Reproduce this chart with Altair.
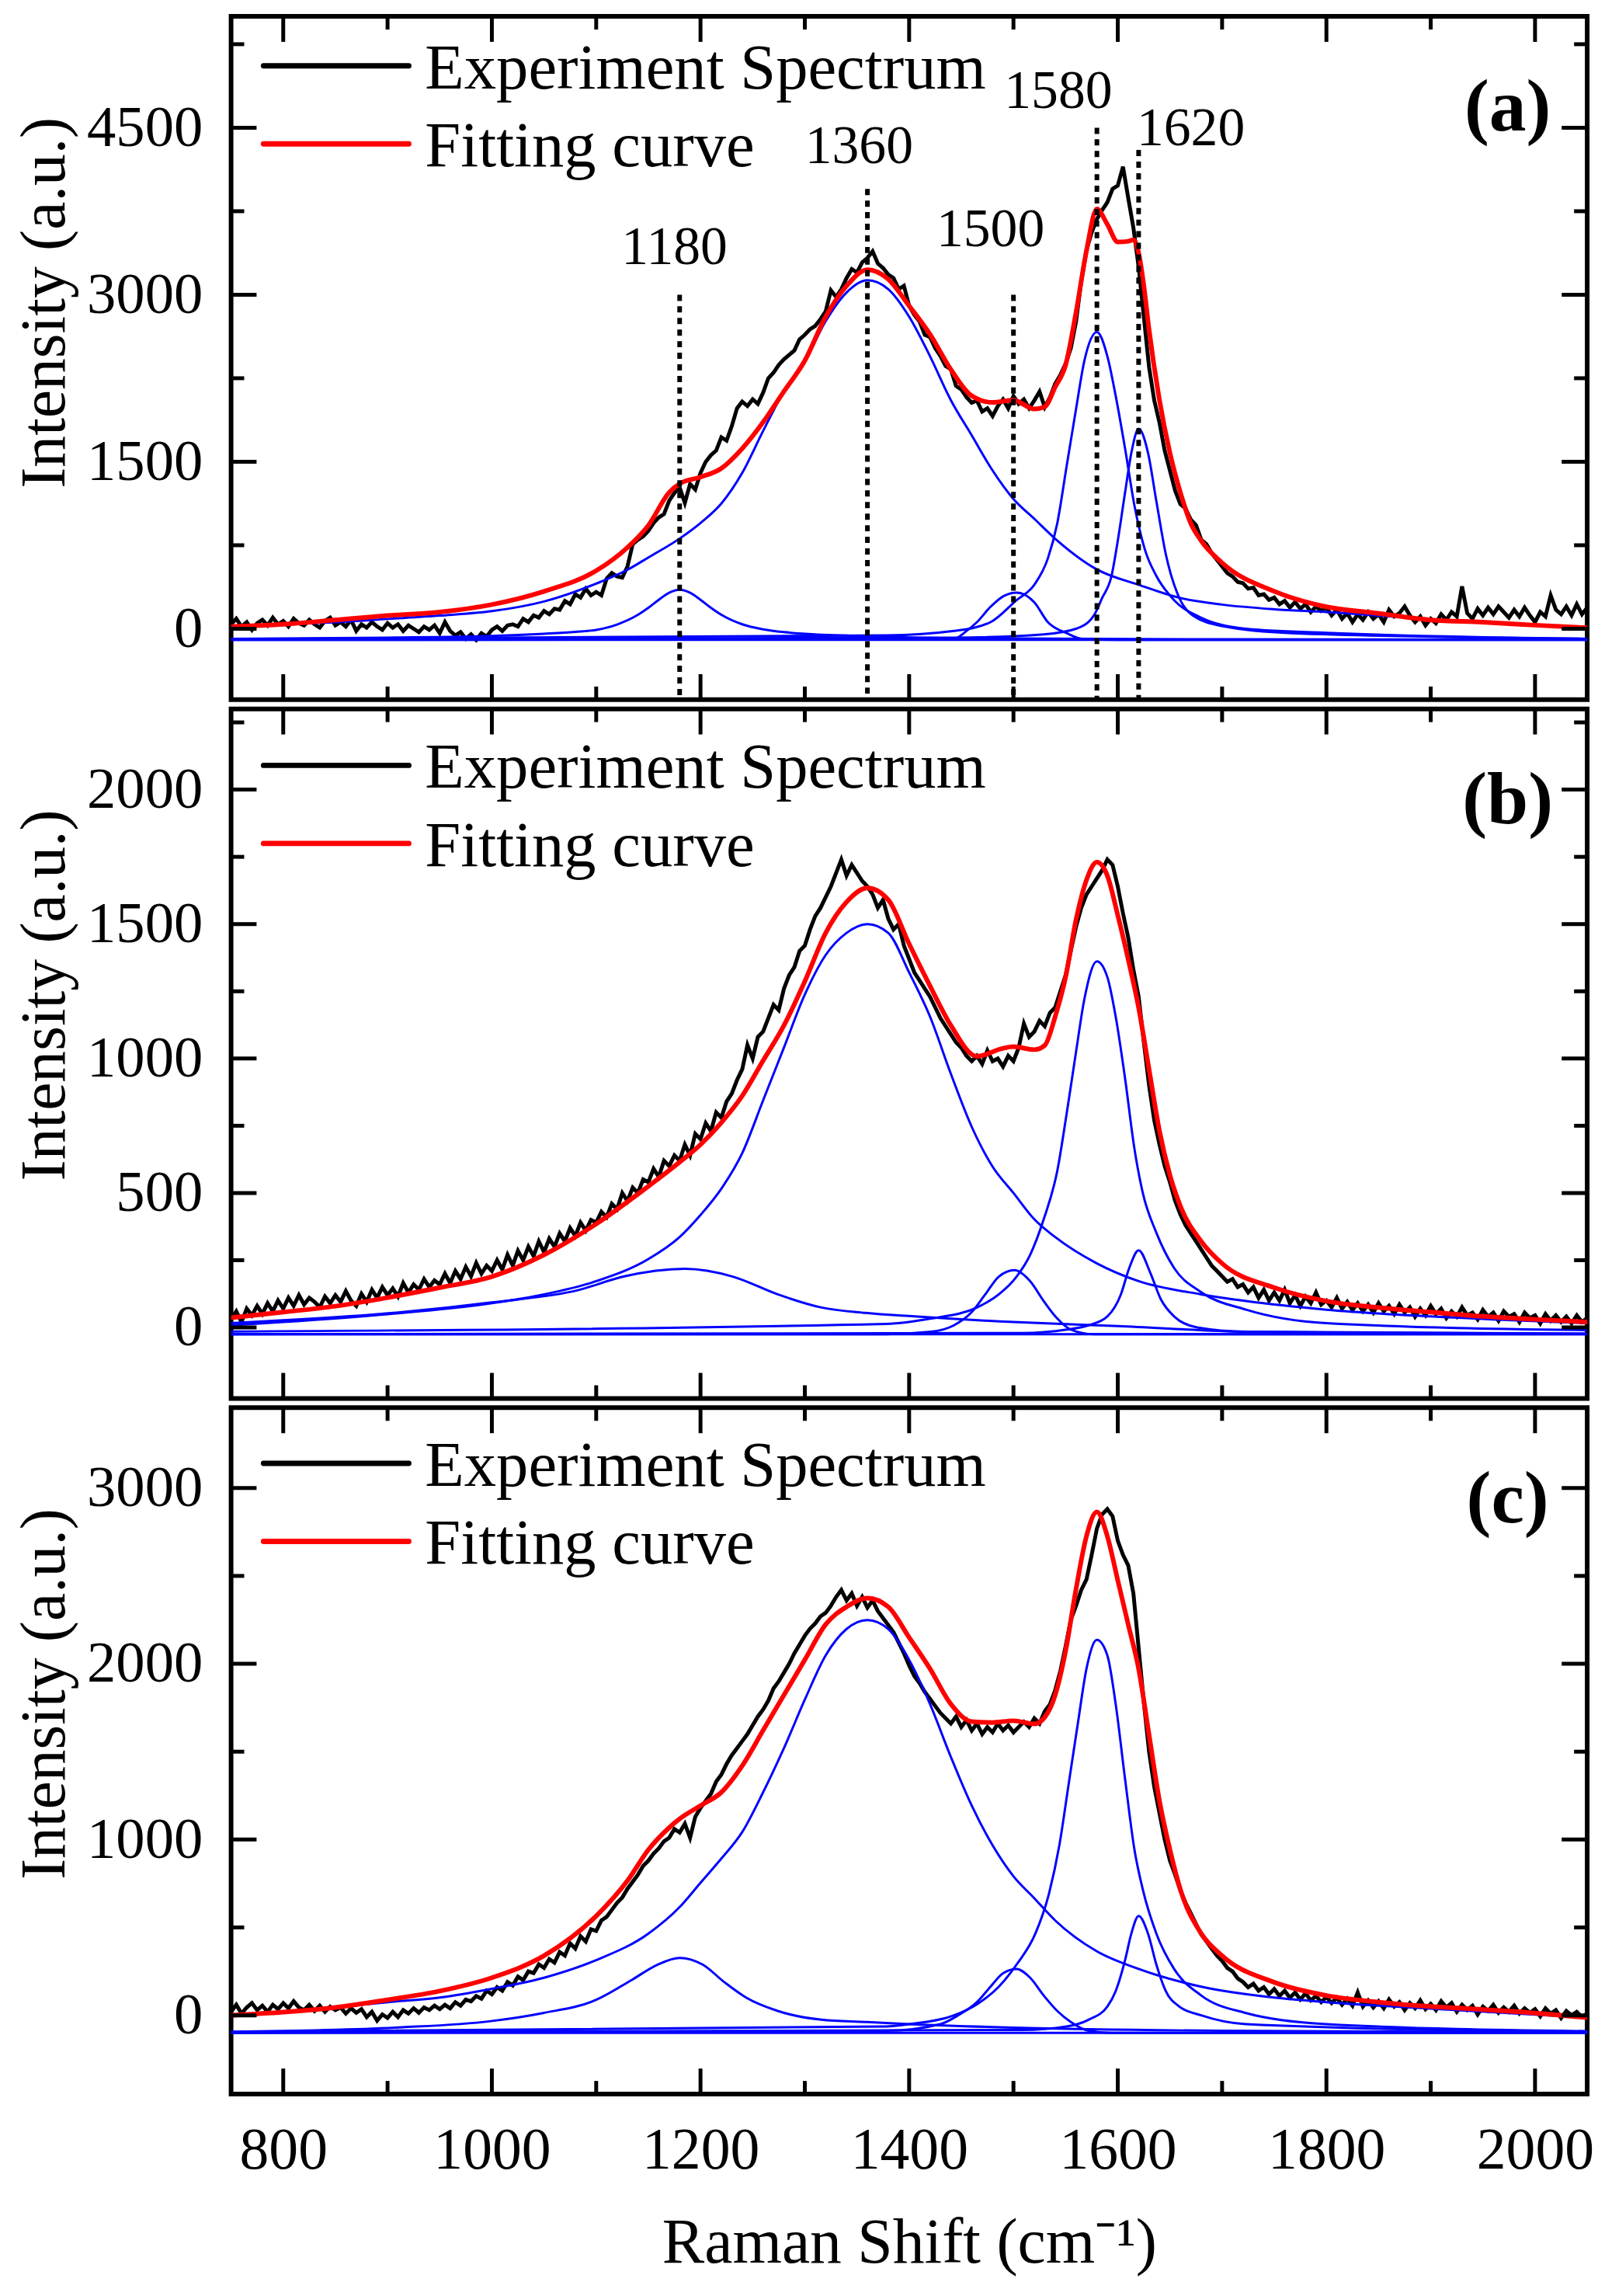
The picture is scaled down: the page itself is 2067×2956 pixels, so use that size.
import altair as alt
import pandas as pd

FONT = "Liberation Serif"
W = 1755
HEIGHTS = {"a": 884, "b": 892, "c": 888}
Y_DOMAINS = {"a": [-637, 5500], "b": [-264, 2300], "c": [-448, 3457]}

LEGEND_LABELS = ["Experiment Spectrum", "Fitting curve"]
PANEL_LABELS = {"a": "(a)", "b": "(b)", "c": "(c)"}
X_TITLE = "Raman Shift (cm\u207b\u00b9)"
Y_TITLE = "Intensity (a.u.)"

X_MAJOR = [800, 1000, 1200, 1400, 1600, 1800, 2000]
X_MINOR = [900, 1100, 1300, 1500, 1700, 1900]
Y_MAJOR = {"a": [0, 1500, 3000, 4500], "b": [0, 500, 1000, 1500, 2000], "c": [0, 1000, 2000, 3000]}
Y_MINOR = {"a": [750, 2250, 3750, 5250], "b": [250, 750, 1250, 1750, 2250], "c": [500, 1500, 2500]}

# experimental spectrum sample positions (cm-1)
EXP_X = list(range(750, 2051, 5))

# ---------------- panel (a) ----------------
exp_a = [
    40, 90, 20, 60, -10, 50, 80, 30, 100, 40, 70, 20, 90, 50, 30, 80, 40, 10, 70, 100,
    30, 60, 20, 80, -20, 40, 10, 60, 20, -10, 50, 10, 40, -20, 30, 0, -30, 20, -10, 30,
    -40, 60, -20, -60, -30, -90, -50, -100, -40, -70, -10, 20, -20, 30, 40, 20, 90, 60, 120, 100,
    160, 130, 180, 170, 250, 220, 310, 280, 360, 300, 330, 300, 450, 500, 470, 460, 560, 760, 800, 830,
    880, 950, 1000, 1030, 1150, 1220, 1270, 1130, 1300, 1250, 1400, 1500, 1560, 1600, 1720, 1690, 1820, 1980, 2040, 2000,
    2060, 2020, 2120, 2250, 2300, 2370, 2420, 2460, 2500, 2600, 2640, 2690, 2720, 2780, 2850, 3040, 2980, 3050, 3150, 3230,
    3200, 3290, 3330, 3390, 3280, 3240, 3180, 3150, 3050, 3080, 2900, 2820, 2760, 2640, 2620, 2520, 2450, 2360, 2330, 2180,
    2150, 2080, 2030, 2050, 1950, 1980, 1910, 2000, 2060, 1980, 2090, 2020, 2060, 1980, 2050, 2130, 1990, 2080, 2200, 2280,
    2380, 2520, 2760, 3120, 3400, 3560, 3680, 3760, 3830, 3950, 3980, 4150, 3870, 3600, 3250, 2800, 2350, 2050, 1850, 1600,
    1420, 1240, 1120, 1080, 980, 930, 800, 760, 680, 620, 560, 500, 470, 420, 410, 360, 370, 300, 310, 260,
    280, 220, 250, 190, 240, 180, 220, 150, 200, 160, 190, 120, 170, 90, 140, 60, 130, 80, 150, 90,
    130, 60, 170, 110, 140, 200, 120, 60, 110, 30, 90, 50, 130, 80, 150, 110, 380, 140, 90, 180,
    120, 190, 130, 200, 150, 100, 170, 110, 190, 120, 60, 150, 110, 300, 170, 130, 200, 120, 220, 130,
    190,
]
fit_a_x = [750, 800, 850, 900, 950, 1000, 1050, 1100, 1130, 1150, 1170, 1180, 1200, 1220, 1240,
           1260, 1280, 1300, 1320, 1340, 1360, 1380, 1400, 1420, 1440, 1460, 1480, 1500, 1520, 1530,
           1540, 1550, 1560, 1570, 1580, 1590, 1600, 1610, 1615, 1620, 1625, 1630, 1640, 1650, 1660,
           1670, 1680, 1700, 1750, 1800, 1850, 1900, 1950, 2000, 2050]
fit_a_y = [20, 40, 79, 118, 150, 217, 336, 521, 730, 928, 1224, 1303, 1362, 1441, 1619,
           1855, 2132, 2408, 2803, 3079, 3225, 3139, 2900, 2645, 2329, 2092, 2033, 2053, 1974, 1994,
           2171, 2369, 2842, 3395, 3770, 3632, 3474, 3480, 3494, 3375, 3079, 2684, 2053, 1579, 1224,
           947, 790, 592, 336, 197, 138, 79, 59, 32, 8]
a_c1_x = [750, 900, 1000, 1050, 1080, 1100, 1120, 1140, 1150, 1160, 1170, 1180, 1190, 1200, 1210,
          1220, 1240, 1260, 1280, 1300, 1350, 1400, 1500, 1700, 2050]
a_c1_y = [-90, -80, -65, -45, -28, -10, 38, 125, 188, 260, 323, 350, 323, 260, 188,
          125, 40, -5, -30, -45, -65, -78, -88, -95, -97]
a_c2_x = [750, 800, 850, 900, 950, 1000, 1050, 1100, 1130, 1150, 1180, 1200, 1220, 1240, 1260,
          1280, 1300, 1320, 1340, 1360, 1380, 1400, 1420, 1440, 1460, 1480, 1500, 1520, 1540, 1580,
          1620, 1660, 1700, 1750, 1800, 1900, 2000, 2050]
a_c2_y = [20, 40, 59, 88, 118, 158, 245, 405, 530, 640, 810, 950, 1125, 1400, 1776,
          2132, 2400, 2763, 3020, 3130, 3050, 2803, 2448, 2053, 1737, 1421, 1165, 987, 809, 533,
          395, 276, 217, 175, 150, 85, 30, 5]
a_c3_x = [750, 1400, 1443, 1455, 1465, 1478, 1491, 1503, 1520, 1533, 1551, 1568, 1600, 2050]
a_c3_y = [-100, -97, -90, -20, 59, 197, 296, 324, 237, 59, -40, -95, -100, -100]
a_c4_x = [750, 1378, 1443, 1478, 1503, 1520, 1533, 1542, 1551, 1560, 1568, 1580, 1590, 1598, 1607,
          1616, 1626, 1637, 1654, 1680, 1723, 1810, 2050]
a_c4_y = [-95, -60, -20, 59, 257, 395, 632, 947, 1461, 1974, 2408, 2665, 2448, 2092, 1619,
          1105, 711, 474, 257, 99, 0, -40, -90]
a_c5_x = [750, 1443, 1529, 1560, 1577, 1585, 1594, 1600, 1607, 1613, 1620, 1629, 1637, 1646, 1659,
          1672, 1702, 1767, 2050]
a_c5_y = [-97, -80, -50, 0, 118, 276, 474, 790, 1224, 1579, 1796, 1579, 1145, 671, 276,
          118, 20, -40, -90]
base_a = -100

peak_pos = [1180, 1360, 1500, 1580, 1620]
peak_line_top = [3000, 3950, 3000, 4500, 4300]
peak_text = ["1180", "1360", "1500", "1580", "1620"]
peak_text_x = [1175, 1352, 1478, 1543, 1670]
peak_text_y = [3272, 4182, 3439, 4675, 4340]

# ---------------- panel (b) ----------------
exp_b = [
    30, 60, 20, 70, 45, 80, 50, 90, 60, 100, 70, 110, 80, 120, 85, 110, 95, 75, 115, 90,
    120, 95, 135, 100, 80, 125, 95, 140, 110, 150, 120, 145, 115, 165, 130, 160, 140, 180, 150, 175,
    160, 200, 165, 210, 180, 225, 190, 240, 200, 230, 210, 250, 215, 270, 230, 285, 250, 300, 265, 320,
    280, 330, 300, 350, 320, 370, 340, 390, 360, 400, 390, 430, 410, 460, 440, 500, 470, 520, 500, 550,
    540, 590, 560, 620, 600, 640, 620, 680, 640, 720, 700, 760, 730, 800, 780, 840, 870, 920, 960, 1050,
    1000, 1080, 1100, 1150, 1200, 1180, 1260, 1310, 1340, 1400, 1420, 1480, 1530, 1560, 1600, 1640, 1690, 1740, 1680, 1720,
    1690, 1660, 1640, 1610, 1560, 1590, 1520, 1480, 1500, 1420, 1370, 1320, 1290, 1260, 1230, 1190, 1150, 1120, 1090, 1060,
    1040, 1010, 990, 1010, 980, 1030, 990, 1000, 970, 1010, 990, 1040, 1130, 1080, 1100, 1140, 1120, 1170, 1190, 1250,
    1310, 1400, 1490, 1560, 1610, 1640, 1670, 1700, 1740, 1720, 1640, 1540, 1450, 1330, 1230, 1060, 900, 770, 680, 600,
    540, 470, 420, 380, 350, 320, 290, 260, 230, 210, 190, 170, 180, 150, 160, 130, 150, 110, 140, 100,
    130, 100, 140, 90, 120, 80, 115, 90, 130, 85, 100, 75, 110, 70, 95, 65, 90, 60, 85, 55,
    90, 60, 80, 50, 85, 55, 75, 40, 70, 45, 80, 50, 70, 35, 60, 40, 75, 45, 55, 30,
    65, 40, 55, 25, 60, 40, 50, 20, 55, 35, 45, 15, 50, 25, 45, 20, 40, 15, 45, 20,
    35,
]
fit_b_x = [750, 800, 850, 900, 950, 1000, 1050, 1100, 1150, 1180, 1200, 1220, 1240, 1260, 1280,
           1300, 1320, 1340, 1360, 1380, 1400, 1420, 1440, 1465, 1490, 1500, 1520, 1530, 1540, 1550,
           1560, 1570, 1580, 1590, 1600, 1610, 1620, 1630, 1640, 1650, 1660, 1680, 1700, 1750, 1800,
           1850, 1900, 1950, 2000, 2050]
fit_b_y = [36, 57, 79, 111, 148, 189, 270, 385, 525, 615, 680, 762, 861, 992, 1123,
           1287, 1467, 1582, 1634, 1590, 1426, 1270, 1123, 1008, 1038, 1044, 1033, 1049, 1156, 1303,
           1516, 1664, 1730, 1680, 1533, 1369, 1189, 959, 730, 566, 451, 320, 238, 148, 98,
           74, 57, 41, 30, 20]
b_c1_x = [750, 830, 914, 1000, 1083, 1126, 1185, 1231, 1274, 1316, 1358, 1405, 1500, 1600, 1723, 1850, 2050]
b_c1_y = [16, 33, 57, 93, 139, 189, 218, 189, 123, 74, 54, 41, 20, 5, -16, -20, -23]
b_c2_x = [750, 800, 900, 1000, 1050, 1100, 1150, 1180, 1200, 1220, 1240, 1260, 1280, 1300, 1320,
          1340, 1360, 1380, 1400, 1420, 1440, 1460, 1480, 1500, 1520, 1540, 1580, 1620, 1680, 1723,
          1800, 1900, 2050]
b_c2_y = [8, 20, 49, 90, 123, 172, 254, 336, 418, 516, 648, 844, 1041, 1238, 1385,
          1467, 1500, 1467, 1320, 1156, 943, 746, 598, 500, 402, 336, 238, 172, 123, 98,
          66, 41, 16]
b_c3_x = [750, 1378, 1421, 1443, 1460, 1473, 1486, 1501, 1516, 1529, 1542, 1555, 1577, 2050]
b_c3_y = [-25, -25, -16, 8, 57, 123, 189, 213, 172, 98, 33, -8, -25, -25]
b_c4_x = [750, 1378, 1421, 1465, 1486, 1503, 1516, 1529, 1542, 1551, 1560, 1568, 1580, 1590, 1598,
          1607, 1616, 1624, 1637, 1654, 1680, 1723, 1800, 2050]
b_c4_y = [-15, 13, 33, 74, 123, 189, 270, 402, 582, 795, 1025, 1221, 1361, 1303, 1156,
          926, 664, 500, 352, 221, 131, 66, 16, -10]
b_c5_x = [750, 1508, 1551, 1572, 1590, 1603, 1611, 1620, 1631, 1641, 1654, 1676, 1723, 2050]
b_c5_y = [-25, -21, -8, 8, 41, 123, 221, 287, 205, 107, 41, 0, -16, -23]
base_b = -25

# ---------------- panel (c) ----------------
exp_c = [
    20, 60, 10, 45, 70, 30, 55, 20, 60, 35, 70, 40, 80, 45, 30, 60, 25, 55, 20, 50,
    30, 45, 10, 40, 15, 35, -10, 20, -30, 5, -15, 20, -10, 30, 10, 40, 15, 45, 30, 55,
    35, 60, 40, 75, 55, 90, 80, 110, 95, 140, 120, 160, 140, 190, 170, 220, 200, 250, 240, 290,
    270, 320, 300, 360, 340, 410, 380, 450, 420, 490, 480, 540, 560, 600, 640, 670, 720, 760, 800, 850,
    880, 920, 950, 990, 1010, 1060, 1040, 1090, 1010, 1130, 1180, 1220, 1260, 1330, 1370, 1430, 1480, 1520, 1560, 1600,
    1650, 1700, 1740, 1790, 1860, 1900, 1950, 2000, 2060, 2110, 2160, 2200, 2230, 2270, 2290, 2330, 2380, 2420, 2360, 2400,
    2330, 2380, 2320, 2360, 2300, 2260, 2220, 2180, 2120, 2060, 1990, 1930, 1890, 1840, 1800, 1760, 1720, 1690, 1660, 1700,
    1640, 1680, 1620, 1660, 1600, 1640, 1610, 1660, 1620, 1650, 1610, 1640, 1670, 1640, 1690, 1660, 1730, 1770, 1850, 1960,
    2100, 2250, 2330, 2420, 2480, 2620, 2770, 2850, 2880, 2840, 2700, 2620, 2560, 2400, 2090, 1780, 1500, 1300, 1150, 1000,
    880, 800, 710, 640, 580, 520, 460, 420, 380, 340, 310, 270, 250, 210, 190, 160, 180, 140, 160, 120,
    150, 110, 140, 100, 130, 90, 125, 85, 110, 75, 105, 70, 100, 60, 95, 55, 130, 50, 85, 45,
    80, 40, 90, 50, 75, 30, 70, 40, 85, 35, 65, 30, 80, 45, 70, 20, 60, 30, 55, 5,
    50, 25, 60, 15, 45, 20, 55, 10, 40, 15, 35, -5, 40, 10, 30, -15, 25, 0, 20, -10,
    10,
]
fit_c_x = [750, 800, 850, 900, 950, 1000, 1050, 1100, 1130, 1150, 1170, 1180, 1200, 1220, 1240,
           1260, 1280, 1300, 1320, 1340, 1360, 1380, 1400, 1420, 1440, 1460, 1480, 1500, 1520, 1530,
           1540, 1550, 1560, 1570, 1580, 1590, 1600, 1610, 1620, 1630, 1640, 1650, 1660, 1680, 1700,
           1750, 1800, 1850, 1900, 1950, 2000, 2050]
fit_c_y = [0, 18, 45, 88, 138, 214, 339, 565, 766, 942, 1068, 1118, 1193, 1269, 1420,
           1621, 1822, 2023, 2224, 2324, 2374, 2324, 2150, 1972, 1771, 1671, 1666, 1676, 1658, 1696,
           1822, 2073, 2425, 2726, 2864, 2726, 2475, 2224, 1972, 1595, 1219, 942, 716, 465, 339,
           188, 113, 75, 50, 33, 13, -13]
c_c1_x = [750, 914, 999, 1049, 1100, 1134, 1159, 1180, 1202, 1223, 1244, 1274, 1316, 1358, 1400, 1500, 1700, 2050]
c_c1_y = [-93, -68, -33, 13, 88, 201, 289, 327, 289, 188, 100, 25, -25, -38, -50, -70, -88, -97]
c_c2_x = [750, 800, 900, 950, 1000, 1050, 1100, 1150, 1180, 1200, 1220, 1240, 1260, 1280, 1300,
          1320, 1340, 1360, 1380, 1400, 1420, 1440, 1460, 1480, 1500, 1520, 1540, 1580, 1620, 1680,
          1750, 1800, 1900, 2050]
c_c2_y = [0, 18, 75, 101, 151, 214, 314, 465, 616, 754, 892, 1043, 1269, 1520, 1796,
          2048, 2198, 2249, 2198, 2023, 1771, 1470, 1193, 967, 791, 666, 540, 364, 264, 163,
          101, 75, 38, -13]
c_c3_x = [750, 1378, 1430, 1447, 1465, 1478, 1490, 1503, 1516, 1529, 1542, 1555, 1572, 1594, 2050]
c_c3_y = [-100, -88, -50, 0, 75, 163, 239, 264, 214, 113, 25, -38, -88, -100, -100]
c_c4_x = [750, 1378, 1400, 1443, 1465, 1486, 1503, 1521, 1534, 1544, 1553, 1562, 1570, 1580, 1590,
          1598, 1607, 1616, 1624, 1637, 1654, 1680, 1723, 1800, 2050]
c_c4_y = [-95, -63, -50, 0, 63, 163, 289, 465, 691, 967, 1319, 1671, 1972, 2136, 2048,
          1771, 1344, 942, 716, 465, 264, 113, 13, -50, -90]
c_c5_x = [750, 1508, 1551, 1572, 1590, 1598, 1607, 1613, 1620, 1629, 1637, 1646, 1659, 1680, 1723, 2050]
c_c5_y = [-97, -83, -63, -25, 50, 138, 314, 465, 565, 465, 289, 138, 50, 0, -50, -95]
base_c = -100

# legend / label placement (pixels inside each panel)
LEGEND_Y = {"a": 64, "b": 73, "c": 72}


def xy_frame(xs, ys):
    return pd.DataFrame([{"x": a, "y": b} for a, b in zip(xs, ys)])


def build_panel(key, exp_y, fit_x, fit_y, comps, base, show_x, annotate):
    H = HEIGHTS[key]
    yd = Y_DOMAINS[key]
    xscale = alt.Scale(domain=[750, 2050], nice=False, zero=False)
    yscale = alt.Scale(domain=yd, nice=False, zero=False)
    if show_x:
        xaxis = alt.Axis(values=X_MAJOR, format="d", ticks=False, tickSize=0, domain=False, grid=False,
                         labelFont=FONT, labelFontSize=76, labelPadding=36, labelFlush=False,
                         labelColor="black", title=X_TITLE, titleFont=FONT, titleFontSize=82,
                         titleFontWeight="normal", titleColor="black", titlePadding=42)
    else:
        xaxis = alt.Axis(labels=False, ticks=False, tickSize=0, domain=False, grid=False, title=None)
    yaxis = alt.Axis(values=Y_MAJOR[key], format="d", ticks=False, tickSize=0, domain=False, grid=False,
                     labelFont=FONT, labelFontSize=75, labelPadding=37, labelFlush=False,
                     labelColor="black", title=Y_TITLE, titleFont=FONT, titleFontSize=82,
                     titleFontWeight="normal", titleColor="black", titlePadding=12, titleY=370)

    def X(f):
        return alt.X(f, type="quantitative", scale=xscale, axis=xaxis)

    def Y(f):
        return alt.Y(f, type="quantitative", scale=yscale, axis=yaxis)

    exp_df = xy_frame(EXP_X, exp_y)
    fit_df = xy_frame(fit_x, fit_y)
    rows = []
    for i, (cx, cy) in enumerate(comps):
        for a, b in zip(cx, cy):
            rows.append({"c": f"c{i}", "x": a, "y": b})
    for a in [750, 2050]:
        rows.append({"c": "base", "x": a, "y": base})
    comp_df = pd.DataFrame(rows)

    layers = [
        alt.Chart(exp_df).mark_line(color="black", strokeWidth=5, clip=True).encode(x=X("x"), y=Y("y")),
        alt.Chart(comp_df).mark_line(color="#0000ff", strokeWidth=3, interpolate="monotone", clip=True)
        .encode(x=X("x"), y=Y("y"), detail="c:N"),
        alt.Chart(fit_df).mark_line(color="#ff0000", strokeWidth=6, interpolate="monotone", clip=True)
        .encode(x=X("x"), y=Y("y")),
    ]

    if annotate:
        ann = pd.DataFrame({"x": peak_pos, "top": peak_line_top, "bot": [yd[0]] * len(peak_pos)})
        layers.append(
            alt.Chart(ann).mark_rule(color="black", strokeWidth=6, strokeDash=[8, 7])
            .encode(x=X("x"), y=Y("top"), y2="bot:Q")
        )
        lab = pd.DataFrame({"x": peak_text_x, "y": peak_text_y, "t": peak_text})
        layers.append(
            alt.Chart(lab).mark_text(font=FONT, fontSize=70, align="center", baseline="alphabetic", color="black")
            .encode(x=X("x"), y=Y("y"), text="t:N")
        )

    # inward ticks
    for vals, L in [(X_MAJOR, 33), (X_MINOR, 17)]:
        d = pd.DataFrame({"t": vals})
        layers.append(alt.Chart(d).mark_rule(color="black", strokeWidth=5)
                      .encode(x=X("t"), y=alt.value(H), y2=alt.value(H - L)))
        layers.append(alt.Chart(d).mark_rule(color="black", strokeWidth=5)
                      .encode(x=X("t"), y=alt.value(0), y2=alt.value(L)))
    for vals, L in [(Y_MAJOR[key], 33), (Y_MINOR[key], 17)]:
        d = pd.DataFrame({"t": vals})
        layers.append(alt.Chart(d).mark_rule(color="black", strokeWidth=5)
                      .encode(y=Y("t"), x=alt.value(0), x2=alt.value(L)))
        layers.append(alt.Chart(d).mark_rule(color="black", strokeWidth=5)
                      .encode(y=Y("t"), x=alt.value(W), x2=alt.value(W - L)))

    # legend
    one = pd.DataFrame({"k": [0]})
    ly = LEGEND_Y[key]
    for j, col in enumerate(["black", "#ff0000"]):
        yy = ly + 101 * j
        layers.append(alt.Chart(one).mark_rule(color=col, strokeWidth=7, strokeCap="round")
                      .encode(x=alt.value(42), x2=alt.value(230), y=alt.value(yy)))
        layers.append(alt.Chart(one).mark_text(font=FONT, fontSize=83, align="left", baseline="alphabetic", color="black")
                      .encode(x=alt.value(251), y=alt.value(yy + 29), text=alt.value(LEGEND_LABELS[j])))
    layers.append(alt.Chart(one).mark_text(font=FONT, fontSize=96, fontWeight="bold", align="center",
                                           baseline="alphabetic", color="black")
                  .encode(x=alt.value(1652), y=alt.value(148), text=alt.value(PANEL_LABELS[key])))

    return alt.layer(*layers).properties(width=W, height=H)


pa = build_panel("a", exp_a, fit_a_x, fit_a_y,
                 [(a_c1_x, a_c1_y), (a_c2_x, a_c2_y), (a_c3_x, a_c3_y), (a_c4_x, a_c4_y), (a_c5_x, a_c5_y)],
                 base_a, False, True)
pb = build_panel("b", exp_b, fit_b_x, fit_b_y,
                 [(b_c1_x, b_c1_y), (b_c2_x, b_c2_y), (b_c3_x, b_c3_y), (b_c4_x, b_c4_y), (b_c5_x, b_c5_y)],
                 base_b, False, False)
pc = build_panel("c", exp_c, fit_c_x, fit_c_y,
                 [(c_c1_x, c_c1_y), (c_c2_x, c_c2_y), (c_c3_x, c_c3_y), (c_c4_x, c_c4_y), (c_c5_x, c_c5_y)],
                 base_c, True, False)

chart = (
    alt.vconcat(pa, pb, pc, spacing=0)
    .properties(padding={"left": 6, "right": 3, "top": 0, "bottom": 0})
    .configure(font=FONT, background="white")
    .configure_view(stroke="black", strokeWidth=6)
)

chart.save("out.html", embed_options={"renderer": "svg", "actions": False})
